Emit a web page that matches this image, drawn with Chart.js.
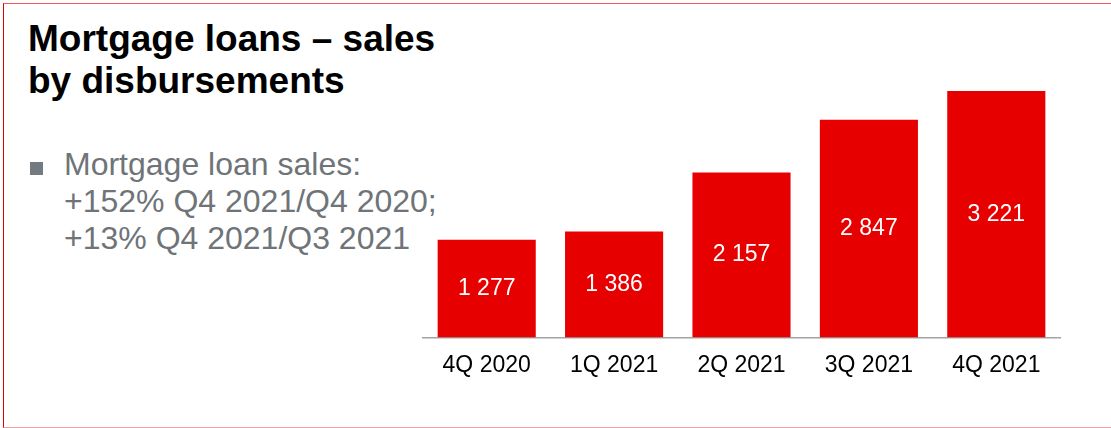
<!DOCTYPE html>
<html>
<head>
<meta charset="utf-8">
<script src="https://cdn.jsdelivr.net/npm/chart.js@4.4.0/dist/chart.umd.min.js"></script>
<style>
  html, body { margin: 0; padding: 0; background: #fff; }
  body { width: 1111px; height: 428px; position: relative; overflow: hidden; font-family: "Liberation Sans", Arial, sans-serif; }
  .frame { position: absolute; left: 3px; top: 3px; width: 1200px; height: 423px;
           border-left: 1px solid #e00000; border-top: 1px solid #f05a5a; border-bottom: 1px solid #f4a0a0; }
  .title { position: absolute; left: 28px; top: 18px; font-weight: bold; font-size: 37px; line-height: 42px; color: #000; }
  .bullet { position: absolute; left: 30px; top: 162px; width: 13px; height: 13px; background: #737b80; }
  .note { position: absolute; left: 64px; top: 146px; font-size: 32px; line-height: 37px; color: #6e7478; }
  #chart { position: absolute; left: 0; top: 0; }
</style>
</head>
<body>
<div class="frame"></div>
<div class="title">Mortgage loans – sales<br>by disbursements</div>
<div class="bullet"></div>
<div class="note">Mortgage loan sales:<br>+152% Q4 2021/Q4 2020;<br>+13% Q4 2021/Q3 2021</div>
<canvas id="chart" width="1111" height="428"></canvas>
<script>
// данные с картинки
const quarters = ['4Q 2020', '1Q 2021', '2Q 2021', '3Q 2021', '4Q 2021'];
const sales = [1277, 1386, 2157, 2847, 3221];

// подписи внутри столбцов: "1 277"
function fmt(v) {
    return String(v).replace(/\B(?=(\d{3})+(?!\d))/g, ' ');
}

const barLabels = {
    id: 'barLabels',
    afterDatasetsDraw(chart) {
        const ctx = chart.ctx;
        const meta = chart.getDatasetMeta(0);
        ctx.save();
        ctx.fillStyle = '#ffffff';
        ctx.font = '23px "Liberation Sans", Arial, sans-serif';
        ctx.textAlign = 'center';
        ctx.textBaseline = 'middle';
        meta.data.forEach((bar, i) => {
            ctx.fillText(fmt(sales[i]), bar.x, (bar.y + bar.base) / 2);
        });
        ctx.restore();
    }
};

const ctx = document.getElementById('chart').getContext('2d');
new Chart(ctx, {
    type: 'bar',
    data: {
        labels: quarters,
        datasets: [{
            data: sales,
            backgroundColor: '#e60000',
            borderWidth: 0,
            categoryPercentage: 1,
            barPercentage: 0.77
        }]
    },
    options: {
        responsive: false,
        animation: false,
        layout: {
            padding: { left: 423, right: 51, top: 85, bottom: 35 }
        },
        plugins: {
            legend: { display: false },
            tooltip: { enabled: false }
        },
        scales: {
            x: {
                grid: { display: false, drawTicks: false },
                border: { display: true, color: '#a3a3a3', width: 1.5 },
                ticks: {
                    color: '#000',
                    padding: 14,
                    font: { family: '"Liberation Sans", Arial, sans-serif', size: 23 }
                }
            },
            y: {
                display: false,
                min: 0,
                max: 3300
            }
        }
    },
    plugins: [barLabels]
});
</script>
</body>
</html>
